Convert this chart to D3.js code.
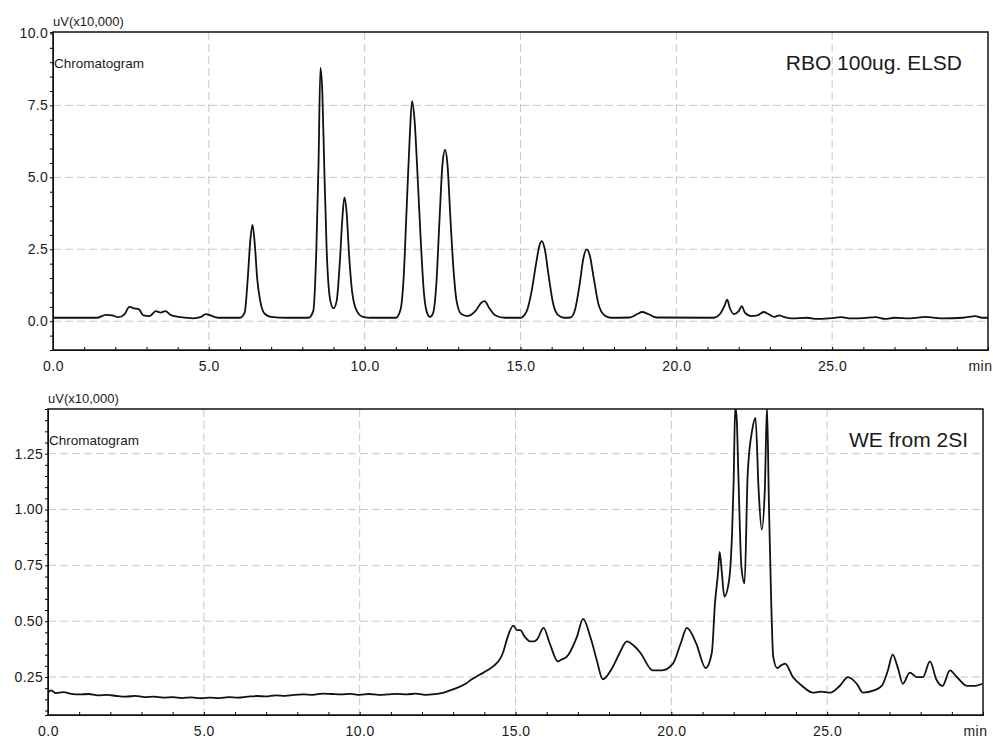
<!DOCTYPE html>
<html lang="en">

<head>
    <meta charset="UTF-8">
    <script src="https://d3js.org/d3.v7.min.js"></script>
    <title>Chromatograms</title>
    <style>
        body { margin: 0; background: #fff; }
        text { font-family: "Liberation Sans", Arial, sans-serif; fill: #1a1a1a; }
    </style>
</head>

<body>
    <svg id="chart" width="993" height="742"></svg>

    <script>
        // x axis (minutes)
        const x_ticks = [0, 5, 10, 15, 20, 25, 30];
        const x_tick_labels = ["0.0", "5.0", "10.0", "15.0", "20.0", "25.0", "min"];

        // top panel: RBO 100ug, ELSD
        const rbo_y_ticks = [0, 2.5, 5, 7.5, 10];
        const rbo_y_labels = ["0.0", "2.5", "5.0", "7.5", "10.0"];
        const rbo_time = [0.0, 1.4, 1.7, 1.9, 2.1, 2.3, 2.45, 2.6, 2.75, 2.9, 3.1, 3.3, 3.45, 3.6, 3.8, 4.1, 4.5, 4.75, 4.9, 5.05,
            5.3, 6.0, 6.15, 6.25, 6.33, 6.4, 6.48, 6.55, 6.65, 6.8, 7.0, 7.5, 8.2, 8.35, 8.45, 8.52, 8.58, 8.64, 8.7, 8.78,
            8.9, 9.0, 9.1, 9.2, 9.28, 9.35, 9.42, 9.5, 9.6, 9.75, 9.95, 10.2, 11.0, 11.15, 11.25, 11.35, 11.45, 11.52, 11.6, 11.7,
            11.8, 11.9, 12.0, 12.1, 12.2, 12.3, 12.4, 12.5, 12.58, 12.66, 12.75, 12.85, 12.95, 13.1, 13.3, 13.55, 13.75, 13.85, 14.0, 14.2,
            14.5, 15.0, 15.2, 15.35, 15.5, 15.6, 15.68, 15.78, 15.9, 16.05, 16.2, 16.4, 16.6, 16.75, 16.9, 17.02, 17.12, 17.22, 17.35, 17.5,
            17.7, 17.9, 18.5, 18.75, 18.9, 19.1, 19.35, 21.2, 21.4, 21.55, 21.63, 21.72, 21.85, 22.0, 22.1, 22.2, 22.4, 22.6, 22.8, 22.95,
            23.15, 23.3, 23.45, 23.7, 24.2, 24.5, 24.9, 25.3, 25.6, 26.0, 26.4, 26.7, 27.0, 27.5, 28.0, 28.5, 29.2, 29.6, 29.8, 30.0];
        const rbo_signal = [0.12, 0.12, 0.22, 0.2, 0.14, 0.25, 0.5, 0.45, 0.42, 0.2, 0.18, 0.35, 0.3, 0.35, 0.2, 0.14, 0.1, 0.15, 0.25, 0.2,
            0.12, 0.12, 0.3, 1.5, 2.8, 3.35, 2.6, 1.5, 0.7, 0.25, 0.15, 0.12, 0.12, 0.35, 2.5, 5.5, 8.8, 8.0, 5.5, 2.5,
            0.7, 0.45, 0.7, 2.0, 3.5, 4.3, 3.8, 2.3, 1.0, 0.35, 0.15, 0.12, 0.12, 0.4, 1.5, 4.0, 6.5, 7.65, 7.0, 5.0,
            2.8, 1.0, 0.3, 0.15, 0.3, 1.3, 3.5, 5.5, 5.95, 5.4, 3.6, 1.8, 0.7, 0.25, 0.18, 0.35, 0.65, 0.7, 0.45, 0.2,
            0.12, 0.12, 0.35, 1.0, 2.0, 2.6, 2.78, 2.5, 1.6, 0.6, 0.22, 0.12, 0.13, 0.4, 1.3, 2.2, 2.5, 2.3, 1.5, 0.6,
            0.2, 0.12, 0.13, 0.25, 0.32, 0.25, 0.13, 0.12, 0.25, 0.55, 0.75, 0.45, 0.25, 0.35, 0.52, 0.3, 0.18, 0.2, 0.32, 0.25,
            0.15, 0.2, 0.15, 0.1, 0.12, 0.08, 0.1, 0.14, 0.1, 0.11, 0.14, 0.08, 0.12, 0.1, 0.15, 0.1, 0.12, 0.18, 0.12, 0.12];

        // bottom panel: WE from 2SI
        const we_y_ticks = [0.25, 0.5, 0.75, 1.0, 1.25];
        const we_y_labels = ["0.25", "0.50", "0.75", "1.00", "1.25"];
        const we_time = [0.0, 0.1, 0.25, 0.5, 0.75, 1.0, 1.3, 1.6, 1.9, 2.2, 2.5, 2.8, 3.1, 3.4, 3.7, 4.0, 4.3, 4.6, 4.9, 5.2,
            5.5, 5.8, 6.1, 6.4, 6.7, 7.0, 7.3, 7.6, 7.9, 8.2, 8.5, 8.8, 9.1, 9.4, 9.7, 10.0, 10.3, 10.6, 10.9, 11.2,
            11.5, 11.8, 12.1, 12.4, 12.7, 12.9, 13.1, 13.4, 13.6, 13.85, 14.1, 14.3, 14.5, 14.6, 14.75, 14.93, 15.05, 15.15, 15.3, 15.46,
            15.6, 15.7, 15.9, 16.1, 16.36, 16.5, 16.64, 16.97, 17.17, 17.4, 17.6, 17.8, 18.1, 18.35, 18.57, 18.8, 19.0, 19.4, 19.7, 20.05,
            20.3, 20.5, 20.8, 21.1, 21.3, 21.4, 21.5, 21.55, 21.62, 21.7, 21.85, 21.95, 22.0, 22.05, 22.1, 22.15, 22.25, 22.35, 22.45, 22.6,
            22.7, 22.8, 22.9, 23.0, 23.07, 23.13, 23.2, 23.27, 23.4, 23.5, 23.65, 23.9, 24.2, 24.55, 24.8, 25.1, 25.4, 25.67, 25.95, 26.15,
            26.5, 26.75, 26.95, 27.1, 27.27, 27.43, 27.65, 27.88, 28.07, 28.3, 28.5, 28.7, 28.94, 29.16, 29.5, 29.7, 29.98];
        const we_signal = [0.18, 0.19, 0.178, 0.182, 0.175, 0.172, 0.174, 0.168, 0.17, 0.165, 0.162, 0.166, 0.16, 0.162, 0.158, 0.16, 0.156, 0.159, 0.155, 0.158,
            0.156, 0.16, 0.158, 0.162, 0.165, 0.163, 0.168, 0.166, 0.17, 0.172, 0.17, 0.176, 0.174, 0.172, 0.175, 0.17, 0.174, 0.17, 0.172, 0.175,
            0.172, 0.176, 0.17, 0.173, 0.18, 0.19, 0.2, 0.22, 0.24, 0.26, 0.28, 0.3, 0.33, 0.36, 0.43, 0.48, 0.46, 0.46, 0.43, 0.41,
            0.41, 0.42, 0.47, 0.4, 0.32, 0.33, 0.34, 0.43, 0.51, 0.43, 0.33, 0.24, 0.29, 0.36, 0.41, 0.39, 0.36, 0.28, 0.28, 0.31,
            0.4, 0.47, 0.4, 0.29, 0.36, 0.58, 0.72, 0.81, 0.72, 0.61, 0.68, 0.9, 1.13, 1.46, 1.4, 1.16, 0.74, 0.67, 1.16, 1.36,
            1.41, 1.09, 0.91, 1.09, 1.46, 1.03, 0.61, 0.34, 0.29, 0.3, 0.31, 0.25, 0.21, 0.18, 0.185, 0.18, 0.21, 0.25, 0.22, 0.18,
            0.19, 0.21, 0.28, 0.35, 0.29, 0.22, 0.27, 0.25, 0.25, 0.32, 0.24, 0.21, 0.28, 0.25, 0.21, 0.21, 0.22];

        const svg = d3.select("#chart");

        const create_panel = (opts) => {
            const xScale = d3.scaleLinear().domain([0, 30]).range([opts.left, opts.right]);
            const yScale = d3.scaleLinear().domain(opts.yDomain).range([opts.bottom, opts.top]);
            const g = svg.append("g");

            // dashed grid
            g.selectAll(".vgrid")
                .data(x_ticks.slice(1, -1))
                .join("line")
                .attr("x1", d => xScale(d)).attr("x2", d => xScale(d))
                .attr("y1", opts.top).attr("y2", opts.bottom)
                .attr("stroke", "#c8c8c8").attr("stroke-dasharray", "8,4");
            g.selectAll(".hgrid")
                .data(opts.yTicks.filter(d => opts.yDomain[1] - d > 0.1))
                .join("line")
                .attr("x1", opts.left).attr("x2", opts.right)
                .attr("y1", d => yScale(d)).attr("y2", d => yScale(d))
                .attr("stroke", "#c8c8c8").attr("stroke-dasharray", "8,4");

            // signal trace
            const clipId = "clip-" + opts.name;
            svg.append("clipPath").attr("id", clipId)
                .append("rect")
                .attr("x", opts.left).attr("y", opts.top)
                .attr("width", opts.right - opts.left).attr("height", opts.bottom - opts.top);

            const points = opts.time.map((t, i) => [t, opts.signal[i]]);
            const line = d3.line()
                .curve(d3.curveMonotoneX)
                .x(d => xScale(d[0]))
                .y(d => yScale(d[1]));
            g.append("path")
                .datum(points)
                .attr("clip-path", "url(#" + clipId + ")")
                .attr("fill", "none")
                .attr("stroke", "#111")
                .attr("stroke-width", 1.8)
                .attr("stroke-linejoin", "round")
                .attr("d", line);

            // x axis with minor ticks inside
            const xAxis = d3.axisBottom(xScale)
                .tickValues(d3.range(0, 31, 1))
                .tickSize(-3)
                .tickFormat(d => {
                    const i = x_ticks.indexOf(d);
                    return i >= 0 ? x_tick_labels[i] : "";
                })
                .tickPadding(11);
            const xg = g.append("g")
                .attr("transform", `translate(0,${opts.bottom})`)
                .call(xAxis);
            xg.selectAll("text").attr("font-size", 14).attr("letter-spacing", 0.5)
                .attr("font-family", "Liberation Sans, Arial, sans-serif").attr("fill", "#1a1a1a");
            xg.selectAll(".tick").filter(d => d === 30).select("text").attr("text-anchor", "end").attr("dx", 4);

            // y axis
            const yAxis = d3.axisLeft(yScale)
                .tickValues(opts.yMinor)
                .tickSize(3)
                .tickFormat(d => {
                    const i = opts.yTicks.findIndex(v => Math.abs(v - d) < 1e-6);
                    return i >= 0 ? opts.yLabels[i] : "";
                })
                .tickPadding(2);
            const yg = g.append("g")
                .attr("transform", `translate(${opts.left},0)`)
                .call(yAxis);
            yg.selectAll("text").attr("font-size", 14).attr("letter-spacing", 0.3)
                .attr("font-family", "Liberation Sans, Arial, sans-serif").attr("fill", "#1a1a1a");

            g.selectAll(".domain").attr("stroke", "#111");

            // frame
            g.append("rect")
                .attr("x", opts.left).attr("y", opts.top)
                .attr("width", opts.right - opts.left).attr("height", opts.bottom - opts.top)
                .attr("fill", "none").attr("stroke", "#111").attr("stroke-width", 1.5);

            // labels
            g.append("text")
                .attr("x", opts.left).attr("y", opts.top - 6)
                .attr("font-size", 13)
                .text("uV(x10,000)");
            g.append("text")
                .attr("x", opts.left + 1).attr("y", opts.top + 36)
                .attr("font-size", 13.5)
                .text("Chromatogram");
            g.append("text")
                .attr("x", opts.titleX).attr("y", opts.top + 38)
                .attr("text-anchor", "end")
                .attr("font-size", 21)
                .text(opts.title);
        };

        create_panel({
            name: "rbo", left: 53, right: 988, top: 32, bottom: 350,
            yDomain: [-1.0, 10.05], yTicks: rbo_y_ticks, yLabels: rbo_y_labels,
            yMinor: d3.range(-0.5, 10.01, 0.5),
            time: rbo_time, signal: rbo_signal,
            title: "RBO 100ug. ELSD", titleX: 962
        });

        create_panel({
            name: "we", left: 48, right: 983, top: 409, bottom: 715,
            yDomain: [0.08, 1.45], yTicks: we_y_ticks, yLabels: we_y_labels,
            yMinor: d3.range(0.1, 1.451, 0.05),
            time: we_time, signal: we_signal,
            title: "WE from 2SI", titleX: 968
        });
    </script>
</body>

</html>
